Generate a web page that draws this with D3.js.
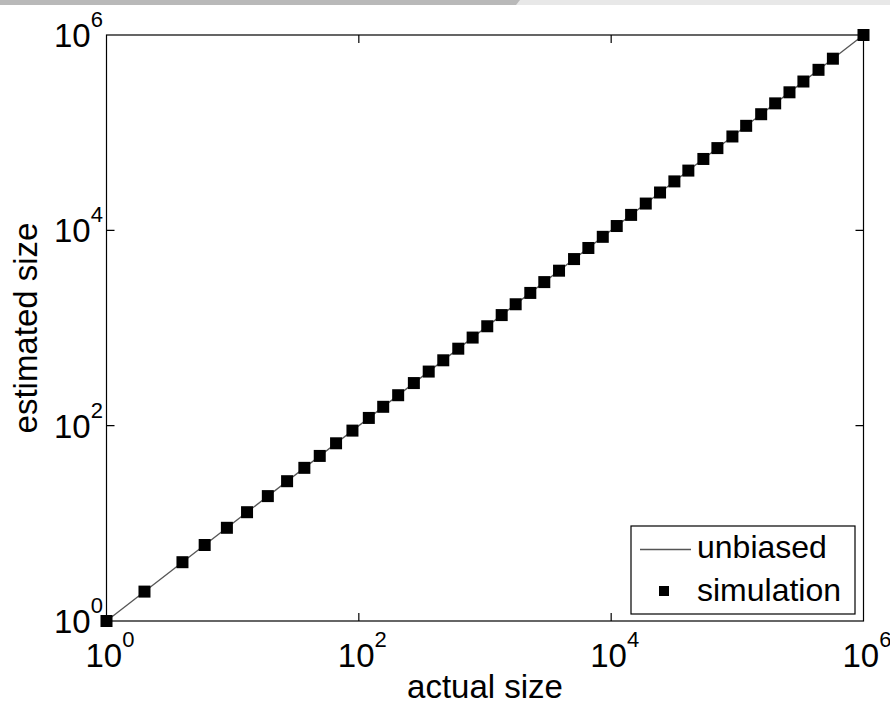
<!DOCTYPE html>
<html>
<head>
<meta charset="utf-8">
<title>estimated vs actual size</title>
<script src="https://d3js.org/d3.v7.min.js"></script>
<style>
  body { margin: 0; background: #fff; }
  text { font-family: "Liberation Sans", Arial, sans-serif; fill: #000; }
</style>
</head>
<body>
<script>
// values
var actual = [1, 2, 4, 6, 9, 13, 19, 27, 37, 49, 66, 89, 120, 156, 205, 273, 358, 467, 614, 798,
  1042, 1356, 1750, 2286, 2951, 3862, 5079, 6596, 8580, 11070, 14390, 18800, 24400, 31700,
  40900, 53800, 69500, 91400, 117500, 154500, 199500, 259000, 334000, 440000, 572000, 1000000];
var estimated = [1, 2, 4, 6, 9, 13, 19, 27, 37, 49, 66, 89, 120, 156, 205, 273, 358, 467, 614, 798,
  1042, 1356, 1750, 2286, 2951, 3862, 5079, 6596, 8580, 11070, 14390, 18800, 24400, 31700,
  40900, 53800, 69500, 91400, 117500, 154500, 199500, 259000, 334000, 440000, 572000, 1000000];
var unbiased = [1, 1000000];
var tickVals = [1, 100, 10000, 1000000];
var tickExp = ["0", "2", "4", "6"];
var legendLabels = ["unbiased", "simulation"];

var W = 890, H = 705;
var pLeft = 106.5, pRight = 863.5, pTop = 35, pBottom = 621;

var svg = d3.select("body").append("svg")
  .attr("width", W)
  .attr("height", H);

// strip at the top of the screenshot
svg.append("rect").attr("x", 0).attr("y", 0).attr("width", W).attr("height", 5).attr("fill", "#e8e8e8");
svg.append("path").attr("d", "M0,0 L520,0 L516,5 L0,5 Z").attr("fill", "#b9b9b9");

var x = d3.scaleLog().domain([1, 1e6]).range([pLeft, pRight]);
var y = d3.scaleLog().domain([1, 1e6]).range([pBottom, pTop]);

// frame
svg.append("rect")
  .attr("x", pLeft).attr("y", pTop)
  .attr("width", pRight - pLeft).attr("height", pBottom - pTop)
  .attr("fill", "none").attr("stroke", "#000").attr("stroke-width", 1.2);

// ticks on all sides, pointing in
var tl = 8;
svg.selectAll(".xt").data(tickVals.slice(1, 3)).enter().append("path")
  .attr("d", function (d) { return "M" + x(d) + "," + pBottom + "v" + (-tl) + "M" + x(d) + "," + pTop + "v" + tl; })
  .attr("stroke", "#000").attr("stroke-width", 1.2);
svg.selectAll(".yt").data(tickVals.slice(1, 3)).enter().append("path")
  .attr("d", function (d) { return "M" + pLeft + "," + y(d) + "h" + tl + "M" + pRight + "," + y(d) + "h" + (-tl); })
  .attr("stroke", "#000").attr("stroke-width", 1.2);

// tick labels  10^n
var fs = 33, fsExp = 22;
tickVals.forEach(function (d, i) {
  var t = svg.append("text")
    .attr("x", x(d) - 21).attr("y", pBottom + 46)
    .style("font-size", fs + "px");
  t.append("tspan").text("10");
  t.append("tspan").attr("dy", -20).style("font-size", fsExp + "px").text(tickExp[i]);

  var ty = svg.append("text")
    .attr("x", 54).attr("y", y(d) + 12)
    .style("font-size", fs + "px");
  ty.append("tspan").text("10");
  ty.append("tspan").attr("dy", -20).style("font-size", fsExp + "px").text(tickExp[i]);
});

// axis titles
svg.append("text")
  .attr("x", (pLeft + pRight) / 2).attr("y", pBottom + 77)
  .attr("text-anchor", "middle")
  .style("font-size", fs + "px")
  .text("actual size");
svg.append("text")
  .attr("transform", "translate(37," + ((pTop + pBottom) / 2) + ") rotate(-90)")
  .attr("text-anchor", "middle")
  .style("font-size", fs + "px")
  .text("estimated size");

// unbiased line
svg.append("path")
  .datum(unbiased)
  .attr("d", d3.line().x(function (d) { return x(d); }).y(function (d) { return y(d); }))
  .attr("fill", "none").attr("stroke", "#555").attr("stroke-width", 1.3);

// simulation squares
var sq = 12;
svg.selectAll("rect.pt").data(actual).enter().append("rect")
  .attr("class", "pt")
  .attr("x", function (d) { return x(d) - sq / 2; })
  .attr("y", function (d, i) { return y(estimated[i]) - sq / 2; })
  .attr("width", sq).attr("height", sq)
  .attr("fill", "#000");

// legend
var lg = svg.append("g");
lg.append("rect")
  .attr("x", 631).attr("y", 526).attr("width", 224).attr("height", 88)
  .attr("fill", "#fff").attr("stroke", "#000").attr("stroke-width", 1.2);
lg.append("line")
  .attr("x1", 640).attr("x2", 691).attr("y1", 549.5).attr("y2", 549.5)
  .attr("stroke", "#555").attr("stroke-width", 1.3);
lg.append("rect")
  .attr("x", 664 - 5).attr("y", 591 - 5).attr("width", 10).attr("height", 10)
  .attr("fill", "#000");
lg.selectAll("text").data(legendLabels).enter().append("text")
  .attr("x", 697)
  .attr("y", function (d, i) { return 558 + i * 43; })
  .style("font-size", "32px")
  .text(function (d) { return d; });
</script>
</body>
</html>
